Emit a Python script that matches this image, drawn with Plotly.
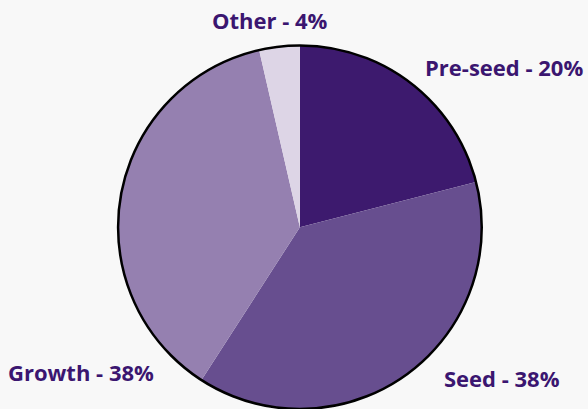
import plotly.graph_objects as go

stages = ['Pre-seed', 'Seed', 'Growth', 'Other']
label_pct = [20, 38, 38, 4]           # percentages printed on the labels
slice_vals = [21.0, 38.1, 37.3, 3.6]  # slice sizes as drawn
colors = ['#3d1a6e', '#674e8f', '#9580b0', '#ddd5e6']

# label anchor points (paper coords), same order as stages
label_x = [0.857, 0.853, 0.138, 0.459]
label_y = [0.836, 0.076, 0.090, 0.951]

dom_x = [0.2, 0.82]
dom_y = [0.0, 0.889]

fig = go.Figure()

fig.add_trace(go.Pie(
    labels=stages,
    values=slice_vals,
    sort=False,
    direction='clockwise',
    marker=dict(colors=colors, line=dict(width=0)),
    textinfo='none',
    domain=dict(x=dom_x, y=dom_y),
    showlegend=False
))

# outer outline only
fig.add_trace(go.Pie(
    values=[1],
    marker=dict(colors=['rgba(0,0,0,0)'], line=dict(color='black', width=2.5)),
    textinfo='none',
    hoverinfo='skip',
    domain=dict(x=dom_x, y=dom_y),
    showlegend=False
))

for name, val, x, y in zip(stages, label_pct, label_x, label_y):
    fig.add_annotation(
        text=f'<b>{name} - {val}%</b>',
        x=x, y=y, xref='paper', yref='paper',
        xanchor='center', yanchor='middle',
        showarrow=False,
        font=dict(family='Open Sans', size=22, color='#3b1670')
    )

fig.update_layout(
    width=588, height=409,
    margin=dict(l=0, r=0, t=0, b=0),
    paper_bgcolor='#f8f8f8',
    plot_bgcolor='#f8f8f8'
)

fig.write_html(
    "out.html",
    config={'displayModeBar': False},
    post_script="document.body.style.margin='0';document.body.style.background='#f8f8f8';"
)
